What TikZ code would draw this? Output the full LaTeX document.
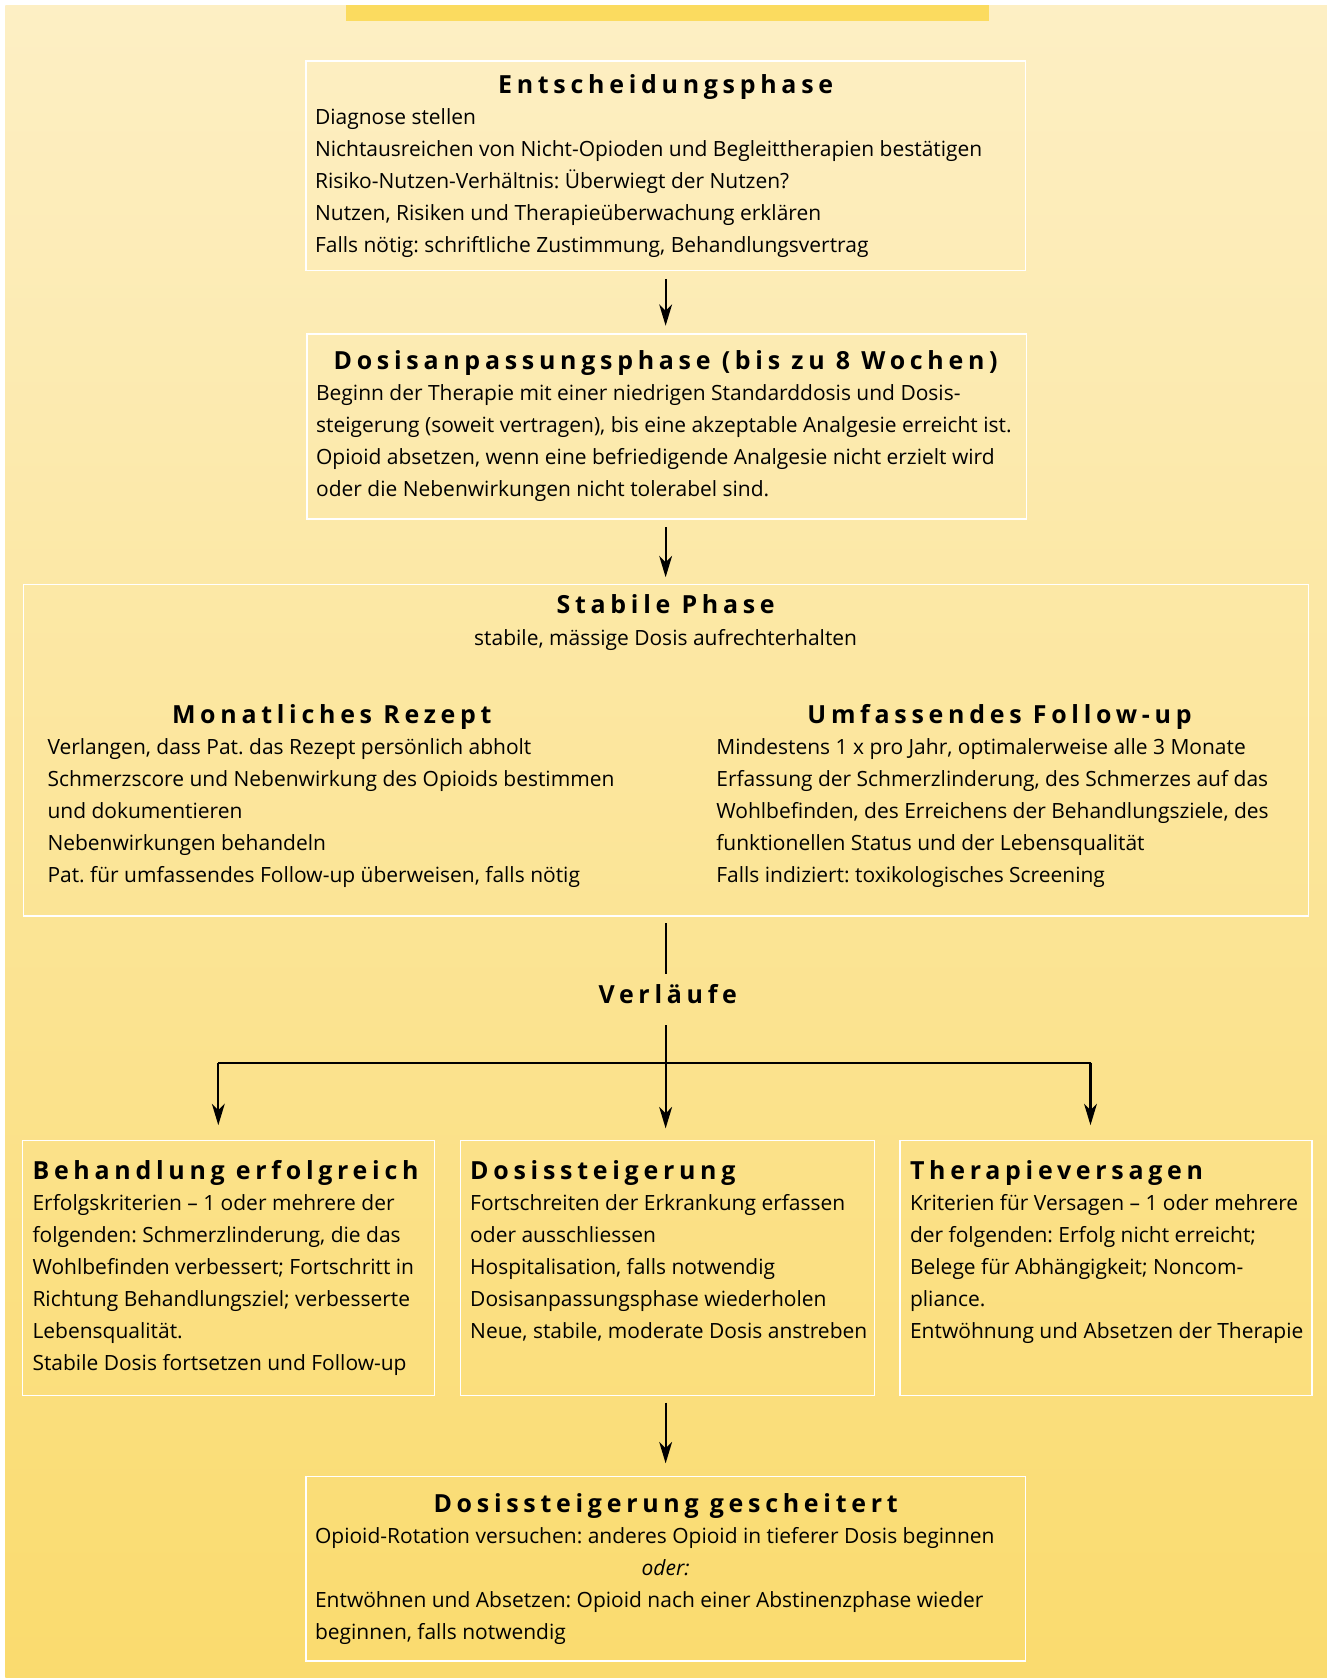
\documentclass[tikz,border=0pt]{standalone}
\usepackage{fontspec}
\setmainfont{Open Sans}
\newfontfamily\headfont[LetterSpace=19]{Open Sans}
\usetikzlibrary{positioning,arrows.meta,fit}
\definecolor{bgtop}{HTML}{FDEFC4}
\definecolor{bgbot}{HTML}{FADB6E}
\definecolor{barcol}{HTML}{FBDB5F}
\frenchspacing

\begin{document}
\begin{tikzpicture}[x=0.5pt, y=-0.5pt, >=Stealth,
    box/.style={draw=white, line width=0.6pt, inner sep=0pt},
    head/.style={font=\headfont\bfseries\fontsize{11.65}{14}\selectfont, inner sep=0pt},
    body/.style={font=\fontsize{9.8}{15}\selectfont, align=left, inner sep=0pt},
    arr/.style={-{Stealth[length=10pt,width=6pt,inset=3pt]}, line width=1pt}]
    % Page and background
    \useasboundingbox (0,0) rectangle (1240,1568);
    \fill[white] (0,0) rectangle (1240,1568);
    \shade[top color=bgtop, bottom color=bgbot] (5,5) rectangle (1240,1568);
    \fill[barcol] (323,5) rectangle (924,20);

    % Boxes
    \node[box, fit={(286,57) (958,253)}] (entsch) {};
    \node[box, fit={(287,312) (959,485)}] (anpass) {};
    \node[box, fit={(22,546) (1223,856)}] (stabil) {};
    \node[box, fit={(21,1066) (406,1304)}] (erfolg) {};
    \node[box, fit={(430,1066) (817,1304)}] (steig) {};
    \node[box, fit={(841,1066) (1226,1304)}] (versag) {};
    \node[box, fit={(286,1380) (958,1552)}] (gescheit) {};

    % Entscheidungsphase (body nodes sit on the baseline of their last line)
    \node[head, anchor=base] (entschT) at (622,87) {Entscheidungsphase};
    \node[body, anchor=base west] (entschB) at (294,236) {Diagnose stellen\\
        Nichtausreichen von Nicht-Opioden und Begleittherapien bestätigen\\
        Risiko-Nutzen-Verhältnis: Überwiegt der Nutzen?\\
        Nutzen, Risiken und Therapieüberwachung erklären\\
        Falls nötig: schriftliche Zustimmung, Behandlungsvertrag};

    % Dosisanpassungsphase
    \node[head, anchor=base] (anpassT) at (622,345) {Dosisanpassungsphase (bis zu 8 Wochen)};
    \node[body, anchor=base west] (anpassB) at (295,464) {Beginn der Therapie mit einer niedrigen Standarddosis und Dosis-\\
        steigerung (soweit vertragen), bis eine akzeptable Analgesie erreicht ist.\\
        Opioid absetzen, wenn eine befriedigende Analgesie nicht erzielt wird\\
        oder die Nebenwirkungen nicht tolerabel sind.};

    % Stabile Phase
    \node[head, anchor=base] (stabilT) at (622,573) {Stabile Phase};
    \node[body, anchor=base] (stabilS) at (622,603) {stabile, mässige Dosis aufrechterhalten};
    \node[head, anchor=base] (rezeptT) at (310,676) {Monatliches Rezept};
    \node[body, anchor=base west] (rezeptB) at (44,825) {Verlangen, dass Pat. das Rezept persönlich abholt\\
        Schmerzscore und Nebenwirkung des Opioids bestimmen\\
        und dokumentieren\\
        Nebenwirkungen behandeln\\
        Pat. für umfassendes Follow-up überweisen, falls nötig};
    \node[head, anchor=base] (followT) at (934,676) {Umfassendes Follow-up};
    \node[body, anchor=base west] (followB) at (669,825) {Mindestens 1 x pro Jahr, optimalerweise alle 3 Monate\\
        Erfassung der Schmerzlinderung, des Schmerzes auf das\\
        Wohlbefinden, des Erreichens der Behandlungsziele, des\\
        funktionellen Status und der Lebensqualität\\
        Falls indiziert: toxikologisches Screening};

    % Verlaeufe
    \node[head, anchor=base] (verl) at (624,938) {Verläufe};

    % Behandlung erfolgreich
    \node[head, anchor=base west] (erfolgT) at (30,1102) {Behandlung erfolgreich};
    \node[body, anchor=base west] (erfolgB) at (30,1281) {Erfolgskriterien – 1 oder mehrere der\\
        folgenden: Schmerzlinderung, die das\\
        Wohlbefinden verbessert; Fortschritt in\\
        Richtung Behandlungsziel; verbesserte\\
        Lebensqualität.\\
        Stabile Dosis fortsetzen und Follow-up};

    % Dosissteigerung
    \node[head, anchor=base west] (steigT) at (439,1102) {Dosissteigerung};
    \node[body, anchor=base west] (steigB) at (439,1251) {Fortschreiten der Erkrankung erfassen\\
        oder ausschliessen\\
        Hospitalisation, falls notwendig\\
        Dosisanpassungsphase wiederholen\\
        Neue, stabile, moderate Dosis anstreben};

    % Therapieversagen
    \node[head, anchor=base west] (versagT) at (850,1102) {Therapieversagen};
    \node[body, anchor=base west] (versagB) at (850,1251) {Kriterien für Versagen – 1 oder mehrere\\
        der folgenden: Erfolg nicht erreicht;\\
        Belege für Abhängigkeit; Noncom-\\
        pliance.\\
        Entwöhnung und Absetzen der Therapie};

    % Dosissteigerung gescheitert
    \node[head, anchor=base] (gescheitT) at (622,1413) {Dosissteigerung gescheitert};
    \node[body, anchor=base west] (gescheitA) at (294,1442) {Opioid-Rotation versuchen: anderes Opioid in tieferer Dosis beginnen};
    \node[body, anchor=base, font=\itshape\fontsize{9.8}{15}\selectfont] (oder) at (622,1472) {oder:};
    \node[body, anchor=base west] (gescheitB) at (294,1532) {Entwöhnen und Absetzen: Opioid nach einer Abstinenzphase wieder\\
        beginnen, falls notwendig};

    % Connectors
    \coordinate (split) at (622,993);
    \coordinate (splitL) at (204,993);
    \coordinate (splitR) at (1019,993);
    \draw[arr, shorten <=3.5pt, shorten >=3.5pt] (entsch.south) -- (anpass.north -| entsch.south);
    \draw[arr, shorten <=3.5pt, shorten >=3pt] (anpass.south -| entsch.south) -- (stabil.north -| entsch.south);
    \draw[line width=1pt, shorten <=3pt] (stabil.south -| entsch.south) -- (622,910);
    \draw[arr, shorten >=5.5pt] (622,958) -- (steig.north -| entsch.south);
    \draw[line width=1pt] (splitL) -- (splitR);
    \draw[arr, shorten >=7pt] (splitL) -- (splitL |- erfolg.north);
    \draw[arr, shorten >=7pt] (splitR) -- (splitR |- versag.north);
    \draw[arr, shorten <=3pt, shorten >=6pt] (steig.south -| entsch.south) -- (gescheit.north -| entsch.south);
\end{tikzpicture}
\end{document}
